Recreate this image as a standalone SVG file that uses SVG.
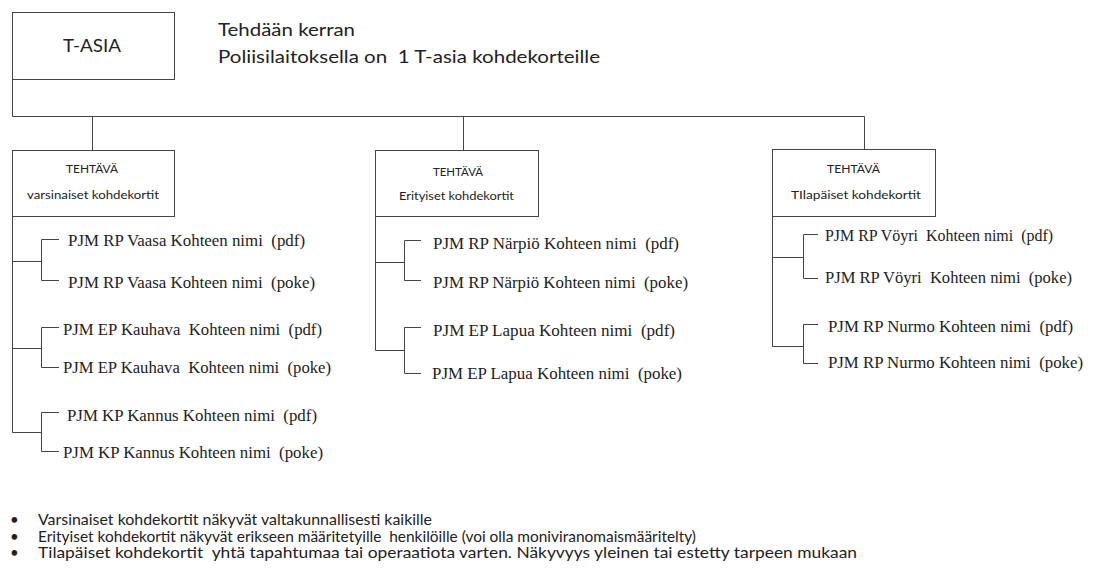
<svg xmlns="http://www.w3.org/2000/svg" width="1098" height="572" viewBox="0 0 1098 572">
<style>
.box{fill:#fff;stroke:#444;stroke-width:1}
.ln{fill:none;stroke:#444;stroke-width:1}
text{white-space:pre}
.sans{font-family:Lato,"Open Sans","Liberation Sans",sans-serif;fill:#222}
.big{font-size:18px}
.mid{font-size:17px}
.sm{font-size:11.5px}
.note{font-size:15px}
.ser{font-family:"Liberation Serif","Times New Roman",serif;font-size:16px;fill:#222}
</style>
<rect width="1098" height="572" fill="#fff"/>
<g id="connectors">
<path class="ln" d="M12.5 79 V116.5 H864.5 M92.5 116.5 V150 M463.5 116.5 V150 M864.5 116.5 V150"/>
<path class="ln" d="M12.5 216 V432.5 M12.5 261.5 H41.5 M41.5 239.5 V280.5 M41.5 239.5 H59 M41.5 280.5 H59 M12.5 348.5 H41.5 M41.5 327.5 V367.5 M41.5 327.5 H59 M41.5 367.5 H59 M12.5 432.5 H41.5 M41.5 412.5 V451.5 M41.5 412.5 H59 M41.5 451.5 H59"/>
<path class="ln" d="M375.5 216 V350.5 M375.5 262.5 H404.5 M404.5 240.5 V280.5 M404.5 240.5 H421 M404.5 280.5 H421 M375.5 350.5 H404.5 M404.5 327.5 V373.5 M404.5 327.5 H421 M404.5 373.5 H421"/>
<path class="ln" d="M772.5 216 V346.5 M772.5 257.5 H803.5 M803.5 234.5 V278.5 M803.5 234.5 H818 M803.5 278.5 H818 M772.5 346.5 H803.5 M803.5 324.5 V363.5 M803.5 324.5 H818 M803.5 363.5 H818"/>
</g>
<g id="t-asia">
<rect class="box" x="12.5" y="12.5" width="162" height="67"/>
<text class="sans mid" x="92" y="52" text-anchor="middle" textLength="58" lengthAdjust="spacingAndGlyphs">T-ASIA</text>
</g>
<g id="title">
<text class="sans big" x="218" y="36" textLength="137" lengthAdjust="spacingAndGlyphs">Tehdään kerran</text>
<text class="sans big" x="218" y="63" textLength="382" lengthAdjust="spacingAndGlyphs">Poliisilaitoksella on  1 T-asia kohdekorteille</text>
</g>
<g id="tehtava-varsinaiset">
<rect class="box" x="12.5" y="150.5" width="162" height="66"/>
<text class="sans sm" x="92" y="173" text-anchor="middle" textLength="52" lengthAdjust="spacingAndGlyphs">TEHTÄVÄ</text>
<text class="sans sm" x="93" y="199" text-anchor="middle" textLength="132" lengthAdjust="spacingAndGlyphs">varsinaiset kohdekortit</text>
</g>
<g id="tehtava-erityiset">
<rect class="box" x="375.5" y="150.5" width="163" height="66"/>
<text class="sans sm" x="458" y="176" text-anchor="middle" textLength="50" lengthAdjust="spacingAndGlyphs">TEHTÄVÄ</text>
<text class="sans sm" x="456.5" y="200" text-anchor="middle" textLength="115" lengthAdjust="spacingAndGlyphs">Erityiset kohdekortit</text>
</g>
<g id="tehtava-tilapaiset">
<rect class="box" x="772.5" y="149.5" width="163" height="67"/>
<text class="sans sm" x="853.5" y="173" text-anchor="middle" textLength="53" lengthAdjust="spacingAndGlyphs">TEHTÄVÄ</text>
<text class="sans sm" x="856" y="199" text-anchor="middle" textLength="130" lengthAdjust="spacingAndGlyphs">TIlapäiset kohdekortit</text>
</g>
<g id="leaves-varsinaiset">
<text id="vaasa-pdf" class="ser" x="68" y="246" textLength="237" lengthAdjust="spacingAndGlyphs">PJM RP Vaasa Kohteen nimi  (pdf)</text>
<text id="vaasa-poke" class="ser" x="68" y="288" textLength="247" lengthAdjust="spacingAndGlyphs">PJM RP Vaasa Kohteen nimi  (poke)</text>
<text id="kauhava-pdf" class="ser" x="63" y="335" textLength="259" lengthAdjust="spacingAndGlyphs">PJM EP Kauhava  Kohteen nimi  (pdf)</text>
<text id="kauhava-poke" class="ser" x="63" y="373" textLength="268" lengthAdjust="spacingAndGlyphs">PJM EP Kauhava  Kohteen nimi  (poke)</text>
<text id="kannus-pdf" class="ser" x="67" y="421" textLength="250" lengthAdjust="spacingAndGlyphs">PJM KP Kannus Kohteen nimi  (pdf)</text>
<text id="kannus-poke" class="ser" x="63" y="458" textLength="260" lengthAdjust="spacingAndGlyphs">PJM KP Kannus Kohteen nimi  (poke)</text>
</g>
<g id="leaves-erityiset">
<text id="narpio-pdf" class="ser" x="433" y="249" textLength="246" lengthAdjust="spacingAndGlyphs">PJM RP Närpiö Kohteen nimi  (pdf)</text>
<text id="narpio-poke" class="ser" x="433" y="288" textLength="255" lengthAdjust="spacingAndGlyphs">PJM RP Närpiö Kohteen nimi  (poke)</text>
<text id="lapua-pdf" class="ser" x="433" y="336" textLength="242" lengthAdjust="spacingAndGlyphs">PJM EP Lapua Kohteen nimi  (pdf)</text>
<text id="lapua-poke" class="ser" x="432" y="379" textLength="250" lengthAdjust="spacingAndGlyphs">PJM EP Lapua Kohteen nimi  (poke)</text>
</g>
<g id="leaves-tilapaiset">
<text id="voyri-pdf" class="ser" x="825" y="241" textLength="228" lengthAdjust="spacingAndGlyphs">PJM RP Vöyri  Kohteen nimi  (pdf)</text>
<text id="voyri-poke" class="ser" x="825" y="283" textLength="247" lengthAdjust="spacingAndGlyphs">PJM RP Vöyri  Kohteen nimi  (poke)</text>
<text id="nurmo-pdf" class="ser" x="828" y="332" textLength="245" lengthAdjust="spacingAndGlyphs">PJM RP Nurmo Kohteen nimi  (pdf)</text>
<text id="nurmo-poke" class="ser" x="828" y="368" textLength="255" lengthAdjust="spacingAndGlyphs">PJM RP Nurmo Kohteen nimi  (poke)</text>
</g>
<g id="notes">
<text class="sans note" x="10" y="525">•</text>
<text class="sans note" x="38" y="525" textLength="394" lengthAdjust="spacingAndGlyphs">Varsinaiset kohdekortit näkyvät valtakunnallisesti kaikille</text>
<text class="sans note" x="10" y="542">•</text>
<text class="sans note" x="38" y="542" textLength="658" lengthAdjust="spacingAndGlyphs">Erityiset kohdekortit näkyvät erikseen määritetyille  henkilöille (voi olla moniviranomaismääritelty)</text>
<text class="sans note" x="10" y="558">•</text>
<text class="sans note" x="38" y="558" textLength="819" lengthAdjust="spacingAndGlyphs">Tilapäiset kohdekortit  yhtä tapahtumaa tai operaatiota varten. Näkyvyys yleinen tai estetty tarpeen mukaan</text>
</g>
</svg>
